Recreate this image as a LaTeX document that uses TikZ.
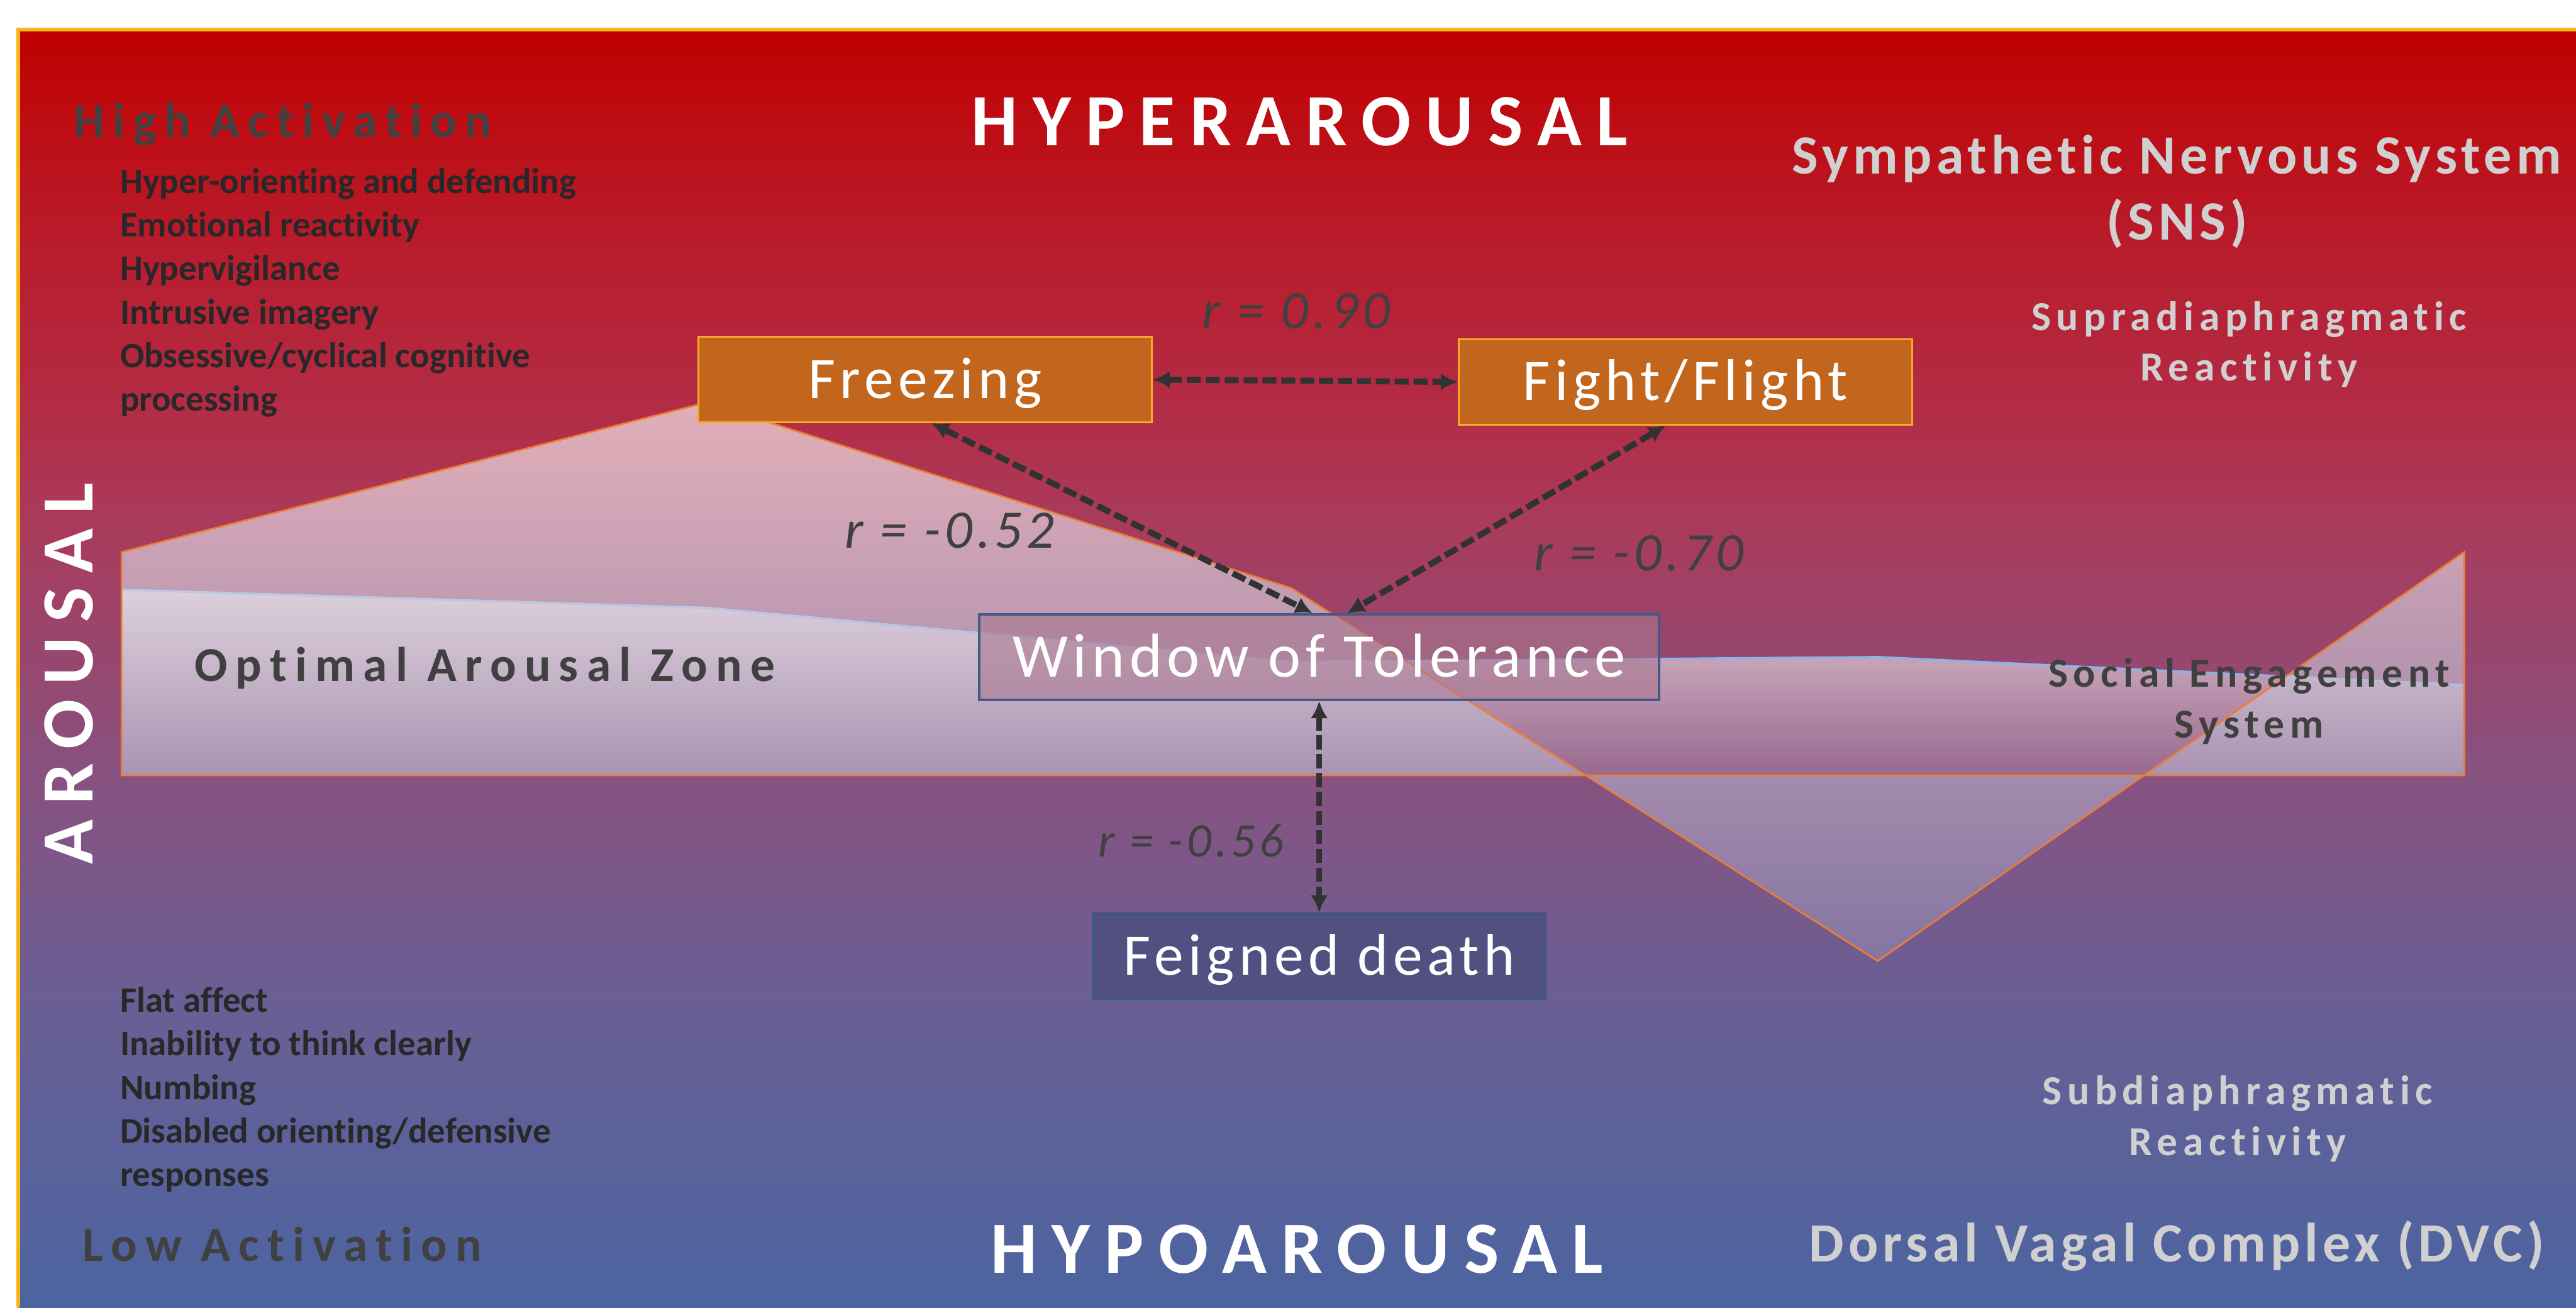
\documentclass[tikz,border=0pt]{standalone}
\usepackage{fontspec}
\setmainfont{Carlito}[Ligatures=NoCommon]
\newfontfamily\wideA[LetterSpace=20,Ligatures=NoCommon]{Carlito}
\newfontfamily\wideB[LetterSpace=17,Ligatures=NoCommon]{Carlito}
\newfontfamily\wideC[LetterSpace=13,Ligatures=NoCommon]{Carlito}
\newfontfamily\wideD[LetterSpace=8,Ligatures=NoCommon]{Carlito}
\usepackage{tikz}
\usetikzlibrary{arrows.meta,calc}
\definecolor{bga}{RGB}{190,0,0}
\definecolor{bgb}{RGB}{190,10,15}
\definecolor{bgc}{RGB}{185,28,45}
\definecolor{bgd}{RGB}{178,45,70}
\definecolor{bge}{RGB}{170,58,90}
\definecolor{bgf}{RGB}{135,82,128}
\definecolor{bgg}{RGB}{106,95,148}
\definecolor{bgh}{RGB}{75,100,160}
\definecolor{frameorange}{RGB}{249,181,23}
\definecolor{lineorange}{RGB}{237,125,49}
\definecolor{zoneblue}{RGB}{140,178,230}
\definecolor{zonelow}{RGB}{160,115,150}
\definecolor{peaklow}{RGB}{145,134,173}
\definecolor{actorange}{RGB}{194,102,30}
\definecolor{actedge}{RGB}{246,170,40}
\definecolor{winfill}{RGB}{170,120,145}
\definecolor{winedge}{RGB}{65,90,135}
\definecolor{deathfill}{RGB}{82,80,128}
\definecolor{deathedge}{RGB}{55,90,125}
\definecolor{textdark}{RGB}{64,64,64}
\definecolor{listdark}{RGB}{40,40,40}
\definecolor{textlight}{RGB}{208,208,208}
\definecolor{arrowgray}{RGB}{50,50,50}
\pgfdeclareverticalshading{arousalbg}{100bp}{color(0bp)=(bgh); color(25bp)=(bgh); color(37bp)=(bgg); color(45.67bp)=(bgf); color(56bp)=(bge); color(59.85bp)=(bgd); color(66.46bp)=(bgc); color(72.24bp)=(bgb); color(75bp)=(bga); color(100bp)=(bga)}

\tikzset{
  heading/.style={font=\wideA\bfseries\fontsize{25.5}{30}\selectfont, text=white, inner sep=0pt},
  activation/.style={font=\wideB\bfseries\fontsize{16.9}{20}\selectfont, text=textdark, inner sep=0pt},
  listtext/.style={font=\bfseries\fontsize{12.4}{15.1}\selectfont, text=listdark, align=left, inner sep=0pt},
  nervetext/.style={font=\wideD\bfseries\fontsize{19.2}{22.7}\selectfont, text=textlight, align=center, inner sep=0pt},
  reacttext/.style={font=\wideC\bfseries\fontsize{14.3}{17.6}\selectfont, text=textlight, align=center, inner sep=0pt},
  boxtext/.style={font=\wideD\fontsize{20.4}{24}\selectfont, text=white, text height=12.9pt, text depth=0pt},
  actbox/.style={boxtext, fill=actorange, draw=actedge, line width=0.6pt, minimum width=5.52cm, minimum height=1.04cm},
  winbox/.style={boxtext, font=\wideD\fontsize{21.5}{25}\selectfont, text height=13.6pt, fill=winfill, fill opacity=0.6, text opacity=1, draw=winedge, line width=0.8pt, minimum width=8.28cm, minimum height=1.04cm},
  deathbox/.style={boxtext, text height=13pt, fill=deathfill, draw=deathedge, line width=0.6pt, minimum width=5.52cm, minimum height=1.04cm},
  rlabel/.style={font=\wideD\itshape\fontsize{18.8}{22}\selectfont, text=textdark, inner sep=0pt},
  corr/.style={<->, arrowgray, line width=2.1pt, dash pattern=on 0.17cm off 0.06cm}
}

\begin{document}
\begin{tikzpicture}[x=0.02cm,y=-0.02cm,>={Latex[length=2.1mm,width=2.1mm]}]
\useasboundingbox (0,0) rectangle (1568,796);
\fill[white] (0,0) rectangle (1568,796);
\shade[shading=arousalbg] (11,18) rectangle (1568,796);
\draw[frameorange, line width=1.4pt] (11,796) -- (11,18) -- (1575,18);

\shade[top color=white, bottom color=zonelow, fill opacity=0.7] (74,472) -- (74,359) -- (430,370) -- (786,403) -- (1143,400) -- (1500,417) -- (1500,472) -- cycle;
\draw[zoneblue, line width=0.8pt] (74,359) -- (430,370) -- (786,403) -- (1143,400) -- (1500,417);
\shade[top color=white, bottom color=peaklow, fill opacity=0.62] (74,472) -- (74,336) -- (430,245) -- (786,358) -- (1143,585) -- (1500,336) -- (1500,472) -- cycle;
\draw[lineorange, line width=0.6pt] (74,472) -- (74,336) -- (430,245) -- (786,358) -- (1143,585) -- (1500,336) -- (1500,472) -- cycle;

\node[heading, anchor=base] (hyper) at (791,88.8) {HYPERAROUSAL};
\node[heading, anchor=base] (hypo) at (789.5,775) {HYPOAROUSAL};
\node[heading, rotate=90] (arousal) at (41.8,410) {AROUSAL};

\node[activation, anchor=base west] (highact) at (44.7,83.8) {High Activation};
\node[activation, anchor=base west] (lowact) at (50,767.7) {Low Activation};
\node[activation, anchor=base west] (optimal) at (118,414.7) {Optimal Arousal Zone};

\node[listtext, anchor=north west] (highlist) at (72.8,102) {Hyper-orienting and defending\\Emotional reactivity\\Hypervigilance\\Intrusive imagery\\Obsessive/cyclical cognitive\\processing};
\node[listtext, anchor=north west] (lowlist) at (72.8,600.5) {Flat affect\\Inability to think clearly\\Numbing\\Disabled orienting/defensive\\responses};

\node[nervetext, anchor=north] (sns) at (1325,82) {Sympathetic Nervous System\\(SNS)};
\node[reacttext, anchor=north] (supra) at (1369,183) {Supradiaphragmatic\\Reactivity};
\node[reacttext, text=textdark, anchor=north] (social) at (1369,400.3) {Social Engagement\\System};
\node[reacttext, anchor=north] (sub) at (1362,654.5) {Subdiaphragmatic\\Reactivity};
\node[nervetext, anchor=base] (dvc) at (1325,768) {Dorsal Vagal Complex (DVC)};

\node[actbox] (freezing) at (563,231) {Freezing};
\node[actbox] (fight) at (1026,232.5) {Fight/Flight};
\node[winbox] (window) at (803,400) {Window of Tolerance};
\node[deathbox] (feigned) at (803,582) {Feigned death};

\draw[corr] (freezing.east) -- (fight.west);
\draw[corr] ([xshift=0.08cm]freezing.south) -- ([xshift=-0.08cm]window.north);
\draw[corr] ([xshift=-0.24cm]fight.south) -- ([xshift=0.34cm]window.north);
\draw[corr] (window.south) -- (feigned.north);

\node[rlabel, anchor=base] (rtop) at (789,200) {r = 0.90};
\node[rlabel, anchor=base] (rleft) at (578,333.5) {r = -0.52};
\node[rlabel, anchor=base] (rright) at (997.5,347.4) {r = -0.70};
\node[rlabel, font=\wideD\itshape\fontsize{16.7}{20}\selectfont, anchor=base] (rdown) at (725,521.4) {r = -0.56};
\end{tikzpicture}
\end{document}
